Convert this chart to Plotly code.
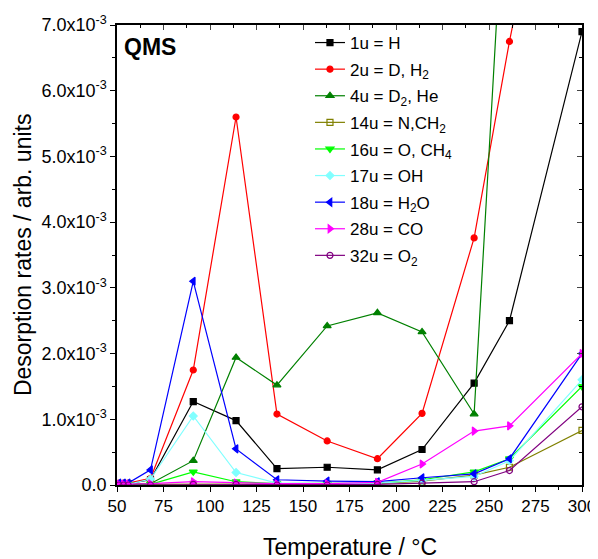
import plotly.graph_objects as go

# Temperature (°C)
temperature = [51, 53.5, 56, 68, 91, 114, 136, 163, 190, 214, 242, 261, 300]

# Desorption rates (x1e-3 arb. units)
m1_H = [0.02, 0.02, 0.02, 0.08, 1.27, 0.98, 0.25, 0.27, 0.23, 0.54, 1.55, 2.50, 6.90]
m2_D_H2 = [0.03, 0.03, 0.03, 0.10, 1.75, 5.60, 1.08, 0.67, 0.40, 1.09, 3.76, 6.75, 12.2]
m4_D2_He = [0.01, 0.01, 0.01, 0.02, 0.37, 1.94, 1.52, 2.42, 2.62, 2.33, 1.08, 10.5, 14.0]
m14_N_CH2 = [0.01, 0.01, 0.01, 0.01, 0.01, 0.01, 0.01, 0.01, 0.02, 0.06, 0.15, 0.27, 0.83]
m16_O_CH4 = [0.01, 0.01, 0.01, 0.01, 0.20, 0.05, 0.02, 0.02, 0.03, 0.08, 0.20, 0.40, 1.50]
m17_OH = [0.01, 0.01, 0.01, 0.09, 1.05, 0.19, 0.03, 0.02, 0.03, 0.07, 0.13, 0.37, 1.60]
m18_H2O = [0.03, 0.03, 0.03, 0.23, 3.10, 0.55, 0.08, 0.06, 0.05, 0.11, 0.17, 0.40, 2.00]
m28_CO = [0.01, 0.01, 0.01, 0.02, 0.05, 0.03, 0.02, 0.02, 0.04, 0.32, 0.82, 0.90, 2.00]
m32_O2 = [0.00, 0.00, 0.00, 0.00, 0.01, 0.01, 0.00, 0.00, 0.01, 0.03, 0.05, 0.22, 1.19]

series = [
    ("1u = H", m1_H, "#000000", "square"),
    ("2u = D, H<sub>2</sub>", m2_D_H2, "#FF0000", "circle"),
    ("4u = D<sub>2</sub>, He", m4_D2_He, "#008000", "triangle-up"),
    ("14u = N,CH<sub>2</sub>", m14_N_CH2, "#808000", "square-open"),
    ("16u = O, CH<sub>4</sub>", m16_O_CH4, "#00FF00", "triangle-down"),
    ("17u = OH", m17_OH, "#80FFFF", "diamond"),
    ("18u = H<sub>2</sub>O", m18_H2O, "#0000FF", "triangle-left"),
    ("28u = CO", m28_CO, "#FF00FF", "triangle-right"),
    ("32u = O<sub>2</sub>", m32_O2, "#800080", "circle-open"),
]

ytick_vals = [0, 1, 2, 3, 4, 5, 6, 7]
ytick_text = ["0.0"] + [f"{v:.1f}x10<sup>-3</sup>" for v in ytick_vals[1:]]
xtick_vals = [50, 75, 100, 125, 150, 175, 200, 225, 250, 275, 300]

fig = go.Figure()
for i, (name, vals, color, sym) in enumerate(series):
    fig.add_trace(go.Scatter(
        x=temperature, y=[v * 1e-3 for v in vals], name=name, mode="lines+markers",
        legendgroup=f"g{i}",
        line=dict(color=color, width=1.2),
        marker=dict(symbol=sym, size=7 if "triangle" in sym else 6, color=color,
                    line=dict(color=color, width=1.2)),
    ))

font_family = "Liberation Sans, Arial, sans-serif"
fig.update_layout(
    width=590, height=551,
    margin=dict(l=109, r=16, t=17, b=74, autoexpand=False),
    plot_bgcolor="white", paper_bgcolor="white",
    font=dict(family=font_family, size=17, color="black"),
    showlegend=True,
    legend=dict(x=0.415, y=1.0, xanchor="left", yanchor="top",
                bgcolor="rgba(0,0,0,0)", font=dict(size=17), itemwidth=30,
                tracegroupgap=1.5),
    xaxis=dict(range=[50, 300], tickvals=xtick_vals, showline=True, linecolor="black",
               linewidth=1.5, ticks="outside", ticklen=5, tickwidth=1.2, tickcolor="black",
               minor=dict(dtick=12.5, ticks="outside", ticklen=3, tickcolor="black"),
               showgrid=False, zeroline=False, automargin=False,
               tickfont=dict(size=17)),
    yaxis=dict(range=[0, 7e-3], tickvals=[v * 1e-3 for v in ytick_vals], ticktext=ytick_text,
               showline=True, linecolor="black", linewidth=1.5, ticks="outside", ticklen=5,
               tickwidth=1.2, tickcolor="black", automargin=False,
               minor=dict(dtick=0.5e-3, ticks="outside", ticklen=3, tickcolor="black"),
               showgrid=False, zeroline=False, tickfont=dict(size=18)),
    xaxis2=dict(range=[50, 300], overlaying="x", side="top", showline=True, linecolor="black",
                linewidth=1.5, ticks="inside", ticklen=5, tickvals=xtick_vals, showticklabels=False,
                minor=dict(dtick=12.5, ticks="inside", ticklen=3, tickcolor="black"),
                showgrid=False, zeroline=False, automargin=False),
    yaxis2=dict(range=[0, 7e-3], overlaying="y", side="right", showline=True, linecolor="black",
                linewidth=1.5, ticks="inside", ticklen=5, tickvals=[v * 1e-3 for v in ytick_vals],
                showticklabels=False, automargin=False,
                minor=dict(dtick=0.5e-3, ticks="inside", ticklen=3, tickcolor="black"),
                showgrid=False, zeroline=False),
)
fig.add_trace(go.Scatter(x=[None], y=[None], xaxis="x2", yaxis="y2", showlegend=False,
                         hoverinfo="skip"))
fig.add_annotation(text="<b>QMS</b>", xref="paper", yref="paper", x=0.01, y=0.985,
                   xanchor="left", yanchor="top", showarrow=False, font=dict(size=23))
fig.add_annotation(text="Temperature / °C", xref="paper", yref="paper", x=0.5, y=-0.135,
                   xanchor="center", yanchor="middle", showarrow=False, font=dict(size=23))
fig.add_annotation(text="Desorption rates / arb. units", xref="paper", yref="paper",
                   x=-0.202, y=0.5, xanchor="center", yanchor="middle", textangle=-90,
                   showarrow=False, font=dict(size=23))
fig.write_html("out.html")
